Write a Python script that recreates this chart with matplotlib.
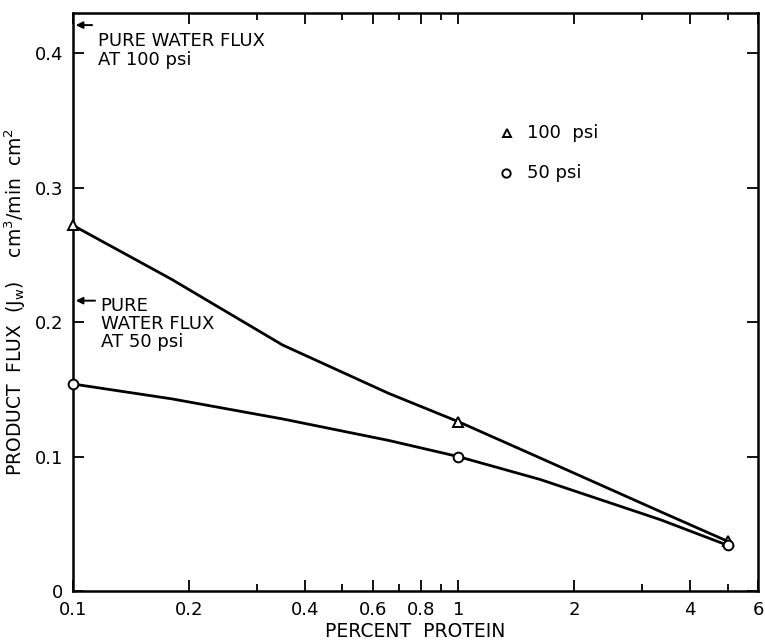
import matplotlib
matplotlib.use('Agg')
import matplotlib.pyplot as plt
from matplotlib.ticker import FixedLocator, NullFormatter

# measured points
protein = [0.1, 1, 5]
flux_100 = [0.272, 0.126, 0.037]
flux_50 = [0.154, 0.100, 0.034]

# the drawn curves
trace_x = [0.1, 0.18, 0.35, 0.66, 1, 1.63, 3.35, 5]
trace_100 = [0.272, 0.232, 0.183, 0.147, 0.126, 0.099, 0.059, 0.037]
trace_50 = [0.154, 0.143, 0.128, 0.112, 0.100, 0.083, 0.053, 0.034]

xticks = [0.1, 0.2, 0.4, 0.6, 0.8, 1, 2, 4, 6]
xticklabels = ['0.1', '0.2', '0.4', '0.6', '0.8', '1', '2', '4', '6']
xminor = [0.3, 0.5, 0.7, 0.9, 3, 5]
yticks = [0, 0.1, 0.2, 0.3, 0.4]
yticklabels = ['0', '0.1', '0.2', '0.3', '0.4']

plt.rcParams['font.family'] = ['DejaVu Sans']
fs = 13

fig = plt.figure(figsize=(7.65, 6.41), dpi=100)
ax = fig.add_axes([0.0954, 0.078, 0.8956, 0.9017])

ax.plot(trace_x, trace_100, color='black', lw=2.0, zorder=2)
ax.plot(trace_x, trace_50, color='black', lw=2.0, zorder=2)
ax.plot(protein, flux_100, ls='none', marker='^', ms=7, mfc='white', mec='black', mew=1.4,
        zorder=3, clip_on=False)
ax.plot(protein, flux_50, ls='none', marker='o', ms=7, mfc='white', mec='black', mew=1.4,
        zorder=3, clip_on=False)

ax.set_xscale('log')
ax.set_xlim(0.1, 6)
ax.set_ylim(0, 0.43)

ax.xaxis.set_major_locator(FixedLocator(xticks))
ax.set_xticklabels(xticklabels)
ax.xaxis.set_minor_locator(FixedLocator(xminor))
ax.xaxis.set_minor_formatter(NullFormatter())
ax.set_yticks(yticks)
ax.set_yticklabels(yticklabels)

ax.tick_params(which='both', direction='in', top=True, right=True, labelsize=fs, width=1.3)
ax.tick_params(which='major', length=8)
ax.tick_params(which='minor', length=5)
ax.tick_params(axis='x', pad=7)
ax.tick_params(axis='y', pad=7)
for s in ax.spines.values():
    s.set_linewidth(1.8)

ax.set_xlabel('PERCENT  PROTEIN', fontsize=13.5, labelpad=2)
ax.set_ylabel('PRODUCT  FLUX  (J$_\\mathregular{w}$)    cm$^\\mathregular{3}$/min  cm$^\\mathregular{2}$',
              fontsize=13.5, labelpad=5)

# legend drawn as in the original
ax.plot([1.34], [0.3405], marker='^', ms=6, mfc='white', mec='black', mew=1.4, ls='none')
ax.plot([1.33], [0.311], marker='o', ms=6, mfc='white', mec='black', mew=1.4, ls='none')
ax.text(1.51, 0.3405, '100  psi', fontsize=fs, va='center', ha='left')
ax.text(1.51, 0.311, '50 psi', fontsize=fs, va='center', ha='left')

# pure water flux markers
ax.annotate('', xy=(0.1, 0.421), xytext=(0.114, 0.421),
            arrowprops=dict(arrowstyle='-|>', color='black', lw=1.4, mutation_scale=10))
ax.text(0.116, 0.402, 'PURE WATER FLUX\nAT 100 psi', fontsize=fs, ha='left', va='center',
        linespacing=1.1)
ax.annotate('', xy=(0.1, 0.216), xytext=(0.116, 0.216),
            arrowprops=dict(arrowstyle='-|>', color='black', lw=1.4, mutation_scale=10))
ax.text(0.118, 0.1985, 'PURE\nWATER FLUX\nAT 50 psi', fontsize=fs, ha='left', va='center',
        linespacing=1.0)

fig.savefig('out.png', dpi=100)
